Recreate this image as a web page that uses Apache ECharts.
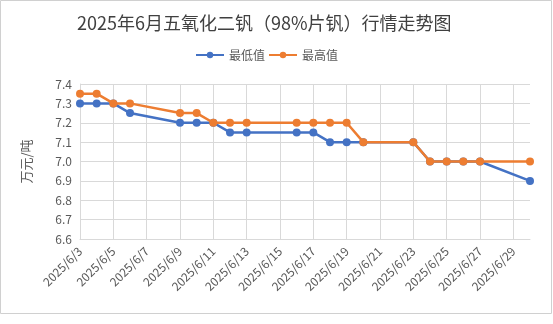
<!DOCTYPE html>
<html>
<head>
<meta charset="utf-8">
<script src="https://cdn.jsdelivr.net/npm/echarts@6/dist/echarts.min.js"></script>
<style>
  html, body { margin: 0; padding: 0; background: #fff; }
  #chart { width: 553px; height: 324px; }
</style>
</head>
<body>
<div id="chart"></div>
<script>
// Trading dates (June 2025) and daily price range, 万元/吨
const dates = ['2025/6/3','2025/6/4','2025/6/5','2025/6/6','2025/6/9','2025/6/10','2025/6/11',
  '2025/6/12','2025/6/13','2025/6/16','2025/6/17','2025/6/18','2025/6/19','2025/6/20',
  '2025/6/23','2025/6/24','2025/6/25','2025/6/26','2025/6/27','2025/6/30'];
const lowValues  = [7.30, 7.30, 7.30, 7.25, 7.20, 7.20, 7.20, 7.15, 7.15, 7.15, 7.15, 7.10, 7.10, 7.10,
  7.10, 7.00, 7.00, 7.00, 7.00, 6.90];
const highValues = [7.35, 7.35, 7.30, 7.30, 7.25, 7.25, 7.20, 7.20, 7.20, 7.20, 7.20, 7.20, 7.20, 7.10,
  7.10, 7.00, 7.00, 7.00, 7.00, 7.00];
const seriesNames = ['最低值', '最高值'];
const startDay = 3;   // first date on the axis: 2025/6/3
const endDay = 30;    // last date on the axis: 2025/6/30

// x position = days since the first date, so weekend gaps keep their width
const dayOffset = d => Number(d.split('/')[2]) - startDay;
const toPoints = vals => dates.map((d, i) => [dayOffset(d), vals[i]]);

const chart = echarts.init(document.getElementById('chart'));
const font = '"Noto Sans CJK SC", "Microsoft YaHei", sans-serif';
const textColor = '#595959';

chart.setOption({
  animation: false,
  textStyle: { fontFamily: font },
  graphic: [{
    type: 'rect',
    shape: { x: 0.5, y: 0.5, width: 551, height: 313 },
    style: { fill: 'none', stroke: '#d0d0d0', lineWidth: 1 },
    silent: true
  }],
  title: {
    text: '2025年6月五氧化二钒（98%片钒）行情走势图',
    left: 72,
    top: 9,
    textStyle: { fontFamily: font, fontSize: 18, fontWeight: 'normal', color: '#404040' }
  },
  legend: {
    top: 44,
    left: 190,
    itemWidth: 28,
    itemHeight: 8,
    itemGap: 3,
    textStyle: { fontFamily: font, fontSize: 12, color: textColor },
    data: seriesNames
  },
  grid: { left: 80, right: 23, top: 84, bottom: 85 },
  xAxis: {
    type: 'value',
    min: 0,
    max: endDay - startDay,
    interval: 2,
    axisLine: { show: true, lineStyle: { color: '#d9d9d9' } },
    axisTick: { show: false },
    splitLine: { show: true, showMaxLine: false, lineStyle: { color: '#d9d9d9' } },
    axisLabel: {
      rotate: 45,
      fontSize: 12,
      color: textColor,
      margin: 10,
      fontFamily: font,
      formatter: v => (v % 2 === 0 ? '2025/6/' + (v + startDay) : '')
    }
  },
  yAxis: {
    type: 'value',
    min: 6.6,
    max: 7.4,
    interval: 0.1,
    name: '万元/吨',
    nameLocation: 'middle',
    nameRotate: 90,
    nameGap: 47,
    nameTextStyle: { fontFamily: font, fontSize: 13, color: textColor },
    axisLine: { show: true, lineStyle: { color: '#d9d9d9' } },
    axisTick: { show: false },
    splitLine: { lineStyle: { color: '#d9d9d9' } },
    axisLabel: {
      fontSize: 12,
      color: textColor,
      margin: 8,
      fontFamily: font,
      formatter: v => v.toFixed(1)
    }
  },
  series: [
    {
      name: seriesNames[0],
      type: 'line',
      data: toPoints(lowValues),
      symbol: 'circle',
      symbolSize: 8,
      lineStyle: { width: 2.5, color: '#4472C4' },
      itemStyle: { color: '#4472C4' },
      z: 2
    },
    {
      name: seriesNames[1],
      type: 'line',
      data: toPoints(highValues),
      symbol: 'circle',
      symbolSize: 8,
      lineStyle: { width: 2.5, color: '#ED7D31' },
      itemStyle: { color: '#ED7D31' },
      z: 3
    }
  ]
});
</script>
</body>
</html>
